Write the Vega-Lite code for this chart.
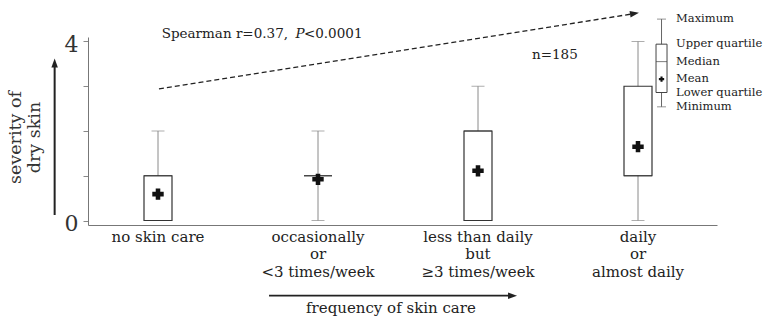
{
  "$schema": "https://vega.github.io/schema/vega-lite/v6.json",
  "width": 629,
  "height": 188,
  "autosize": {"type": "none"},
  "padding": {"left": 88, "top": 37, "right": 46, "bottom": 92},
  "background": "white",
  "config": {
    "view": {"stroke": null},
    "font": "DejaVu Serif",
    "text": {"font": "DejaVu Serif", "color": "#222"}
  },
  "datasets": {
    "stats": [
      {"order": 1, "category": "no skin care", "min": 0, "q1": 0, "median": 1, "q3": 1, "max": 2, "mean": 0.59},
      {"order": 2, "category": "occasionally\nor\n<3 times/week", "min": 0, "q1": 1, "median": 1, "q3": 1, "max": 2, "mean": 0.92},
      {"order": 3, "category": "less than daily\nbut\n≥3 times/week", "min": 0, "q1": 0, "median": 2, "q3": 2, "max": 3, "mean": 1.11},
      {"order": 4, "category": "daily\nor\nalmost daily", "min": 0, "q1": 1, "median": 1, "q3": 3, "max": 4, "mean": 1.65}
    ],
    "key": [
      {"Maximum": 4.5, "Upper quartile": 3.94, "Median": 3.55, "Mean": 3.16, "Lower quartile": 2.86, "Minimum": 2.54}
    ],
    "one": [{}]
  },
  "resolve": {"axis": {"x": "independent", "y": "independent"}},
  "layer": [
    {
      "data": {"name": "stats"},
      "mark": {"type": "rule", "color": "#8a8a8a", "strokeWidth": 1},
      "encoding": {
        "x": {
          "field": "order", "type": "quantitative",
          "scale": {"domain": [0.5625, 4.49375], "nice": false, "zero": false, "padding": 0},
          "axis": {"labels": false, "ticks": false, "grid": false, "title": null, "domain": true, "domainColor": "#777", "domainWidth": 1}
        },
        "y": {
          "field": "min", "type": "quantitative",
          "scale": {"domain": [-0.1, 4.1], "nice": false, "zero": false, "padding": 0},
          "axis": {
            "values": [0, 1, 2, 3, 4],
            "labelExpr": "datum.value == 0 || datum.value == 4 ? datum.label : ''",
            "grid": false,
            "domain": true,
            "ticks": true,
            "tickSize": 5,
            "tickColor": "#888",
            "domainColor": "#777",
            "labelFont": "DejaVu Serif",
            "labelFontSize": 22,
            "labelColor": "#333",
            "labelPadding": 5,
            "labelOffset": 3,
            "title": ["severity of", "dry skin"],
            "titleFont": "DejaVu Serif",
            "titleFontSize": 17.5,
            "titleFontWeight": "normal",
            "titleColor": "#333",
            "titleAngle": 270,
            "titleAlign": "center",
            "titleBaseline": "middle",
            "titleLineHeight": 19,
            "titleX": -73,
            "titleY": 100
          }
        },
        "y2": {"field": "max"}
      }
    },
    {
      "data": {"name": "stats"},
      "mark": {"type": "tick", "orient": "horizontal", "color": "#8a8a8a", "size": 13, "thickness": 1},
      "encoding": {
        "x": {"field": "order", "type": "quantitative", "axis": null},
        "y": {"field": "min", "type": "quantitative", "axis": null}
      }
    },
    {
      "data": {"name": "stats"},
      "mark": {"type": "tick", "orient": "horizontal", "color": "#8a8a8a", "size": 13, "thickness": 1},
      "encoding": {
        "x": {"field": "order", "type": "quantitative", "axis": null},
        "y": {"field": "max", "type": "quantitative", "axis": null}
      }
    },
    {
      "data": {"name": "stats"},
      "mark": {"type": "bar", "fill": "white", "stroke": "#333", "strokeWidth": 1.2, "size": 28, "orient": "vertical"},
      "encoding": {
        "x": {"field": "order", "type": "quantitative", "axis": null},
        "y": {"field": "q1", "type": "quantitative", "axis": null},
        "y2": {"field": "q3"}
      }
    },
    {
      "data": {"name": "stats"},
      "mark": {"type": "tick", "orient": "horizontal", "color": "#333", "size": 28, "thickness": 1.2},
      "encoding": {
        "x": {"field": "order", "type": "quantitative", "axis": null},
        "y": {"field": "median", "type": "quantitative", "axis": null}
      }
    },
    {
      "data": {"name": "stats"},
      "mark": {"type": "point", "shape": "cross", "filled": true, "color": "#111", "opacity": 1, "size": 130},
      "encoding": {
        "x": {"field": "order", "type": "quantitative", "axis": null},
        "y": {"field": "mean", "type": "quantitative", "axis": null}
      }
    },
    {
      "data": {"name": "stats"},
      "mark": {"type": "text", "lineBreak": "\n", "baseline": "alphabetic", "align": "center", "fontSize": 15, "lineHeight": 17.3, "color": "#222"},
      "encoding": {
        "x": {"field": "order", "type": "quantitative", "axis": null},
        "y": {"datum": -0.48, "type": "quantitative", "axis": null},
        "text": {"field": "category"}
      }
    },
    {
      "data": {"name": "key"},
      "mark": {"type": "rule", "color": "#666", "strokeWidth": 1},
      "encoding": {
        "x": {"datum": 4.147, "type": "quantitative", "axis": null},
        "y": {"field": "Minimum", "type": "quantitative", "axis": null},
        "y2": {"field": "Maximum"}
      }
    },
    {
      "data": {"name": "key"},
      "mark": {"type": "tick", "orient": "horizontal", "color": "#666", "size": 9, "thickness": 1},
      "encoding": {
        "x": {"datum": 4.147, "type": "quantitative", "axis": null},
        "y": {"field": "Minimum", "type": "quantitative", "axis": null}
      }
    },
    {
      "data": {"name": "key"},
      "mark": {"type": "tick", "orient": "horizontal", "color": "#666", "size": 9, "thickness": 1},
      "encoding": {
        "x": {"datum": 4.147, "type": "quantitative", "axis": null},
        "y": {"field": "Maximum", "type": "quantitative", "axis": null}
      }
    },
    {
      "data": {"name": "key"},
      "mark": {"type": "bar", "fill": "white", "stroke": "#444", "strokeWidth": 1, "size": 11, "orient": "vertical"},
      "encoding": {
        "x": {"datum": 4.147, "type": "quantitative", "axis": null},
        "y": {"field": "Lower quartile", "type": "quantitative", "axis": null},
        "y2": {"field": "Upper quartile"}
      }
    },
    {
      "data": {"name": "key"},
      "mark": {"type": "tick", "orient": "horizontal", "color": "#444", "size": 11, "thickness": 1},
      "encoding": {
        "x": {"datum": 4.147, "type": "quantitative", "axis": null},
        "y": {"field": "Median", "type": "quantitative", "axis": null}
      }
    },
    {
      "data": {"name": "key"},
      "mark": {"type": "point", "shape": "cross", "filled": true, "color": "#111", "opacity": 1, "size": 28},
      "encoding": {
        "x": {"datum": 4.147, "type": "quantitative", "axis": null},
        "y": {"field": "Mean", "type": "quantitative", "axis": null}
      }
    },
    {
      "data": {"name": "key"},
      "transform": [{"fold": ["Maximum", "Upper quartile", "Median", "Mean", "Lower quartile", "Minimum"], "as": ["label", "value"]}],
      "mark": {"type": "text", "align": "left", "baseline": "middle", "fontSize": 11.5, "color": "#222"},
      "encoding": {
        "x": {"datum": 4.2375, "type": "quantitative", "axis": null},
        "y": {"field": "value", "type": "quantitative", "axis": null},
        "text": {"field": "label"}
      }
    },
    {
      "data": {"name": "one"},
      "mark": {"type": "rule", "color": "#222", "strokeWidth": 1.3, "strokeDash": [5, 3]},
      "encoding": {
        "x": {"datum": 1.006, "type": "quantitative", "axis": null},
        "x2": {"datum": 3.95},
        "y": {"datum": 2.94, "type": "quantitative", "axis": null},
        "y2": {"datum": 4.608}
      }
    },
    {
      "data": {"name": "one"},
      "mark": {"type": "point", "shape": "M0,0L-1,-0.36L-1,0.36Z", "filled": true, "color": "#222", "opacity": 1, "size": 324, "angle": -9},
      "encoding": {
        "x": {"datum": 4.006, "type": "quantitative", "axis": null},
        "y": {"datum": 4.64, "type": "quantitative", "axis": null}
      }
    },
    {
      "data": {"name": "one"},
      "mark": {"type": "rule", "color": "#222", "strokeWidth": 1.8},
      "encoding": {
        "x": {"datum": 1.694, "type": "quantitative", "axis": null},
        "x2": {"datum": 3.2},
        "y": {"datum": -1.68, "type": "quantitative", "axis": null}
      }
    },
    {
      "data": {"name": "one"},
      "mark": {"type": "point", "shape": "M0,0L-1,-0.36L-1,0.36Z", "filled": true, "color": "#222", "opacity": 1, "size": 324, "angle": 0},
      "encoding": {
        "x": {"datum": 3.244, "type": "quantitative", "axis": null},
        "y": {"datum": -1.68, "type": "quantitative", "axis": null}
      }
    },
    {
      "data": {"name": "one"},
      "mark": {"type": "rule", "color": "#222", "strokeWidth": 2},
      "encoding": {
        "x": {"datum": 0.354, "type": "quantitative", "axis": null},
        "y": {"datum": 0.123, "type": "quantitative", "axis": null},
        "y2": {"datum": 3.5}
      }
    },
    {
      "data": {"name": "one"},
      "mark": {"type": "point", "shape": "M0,0L-1,-0.36L-1,0.36Z", "filled": true, "color": "#222", "opacity": 1, "size": 324, "angle": -90},
      "encoding": {
        "x": {"datum": 0.354, "type": "quantitative", "axis": null},
        "y": {"datum": 3.62, "type": "quantitative", "axis": null}
      }
    },
    {
      "data": {"name": "one"},
      "mark": {"type": "text", "align": "center", "baseline": "alphabetic", "fontSize": 15, "color": "#222"},
      "encoding": {
        "x": {"datum": 2.456, "type": "quantitative", "axis": null},
        "y": {"datum": -2.07, "type": "quantitative", "axis": null},
        "text": {"value": "frequency of skin care"}
      }
    },
    {
      "data": {"name": "one"},
      "mark": {"type": "text", "align": "left", "baseline": "alphabetic", "fontSize": 13.5, "color": "#222"},
      "encoding": {
        "x": {"datum": 1.023, "type": "quantitative", "axis": null},
        "y": {"datum": 4.07, "type": "quantitative", "axis": null},
        "text": {"value": "Spearman r=0.37,"}
      }
    },
    {
      "data": {"name": "one"},
      "mark": {"type": "text", "align": "left", "baseline": "alphabetic", "fontSize": 13.5, "fontStyle": "italic", "color": "#222"},
      "encoding": {
        "x": {"datum": 1.86, "type": "quantitative", "axis": null},
        "y": {"datum": 4.07, "type": "quantitative", "axis": null},
        "text": {"value": "P"}
      }
    },
    {
      "data": {"name": "one"},
      "mark": {"type": "text", "align": "left", "baseline": "alphabetic", "fontSize": 13.5, "color": "#222"},
      "encoding": {
        "x": {"datum": 1.912, "type": "quantitative", "axis": null},
        "y": {"datum": 4.07, "type": "quantitative", "axis": null},
        "text": {"value": "<0.0001"}
      }
    },
    {
      "data": {"name": "one"},
      "mark": {"type": "text", "align": "left", "baseline": "alphabetic", "fontSize": 13.5, "color": "#222"},
      "encoding": {
        "x": {"datum": 3.3375, "type": "quantitative", "axis": null},
        "y": {"datum": 3.6, "type": "quantitative", "axis": null},
        "text": {"value": "n=185"}
      }
    }
  ]
}
